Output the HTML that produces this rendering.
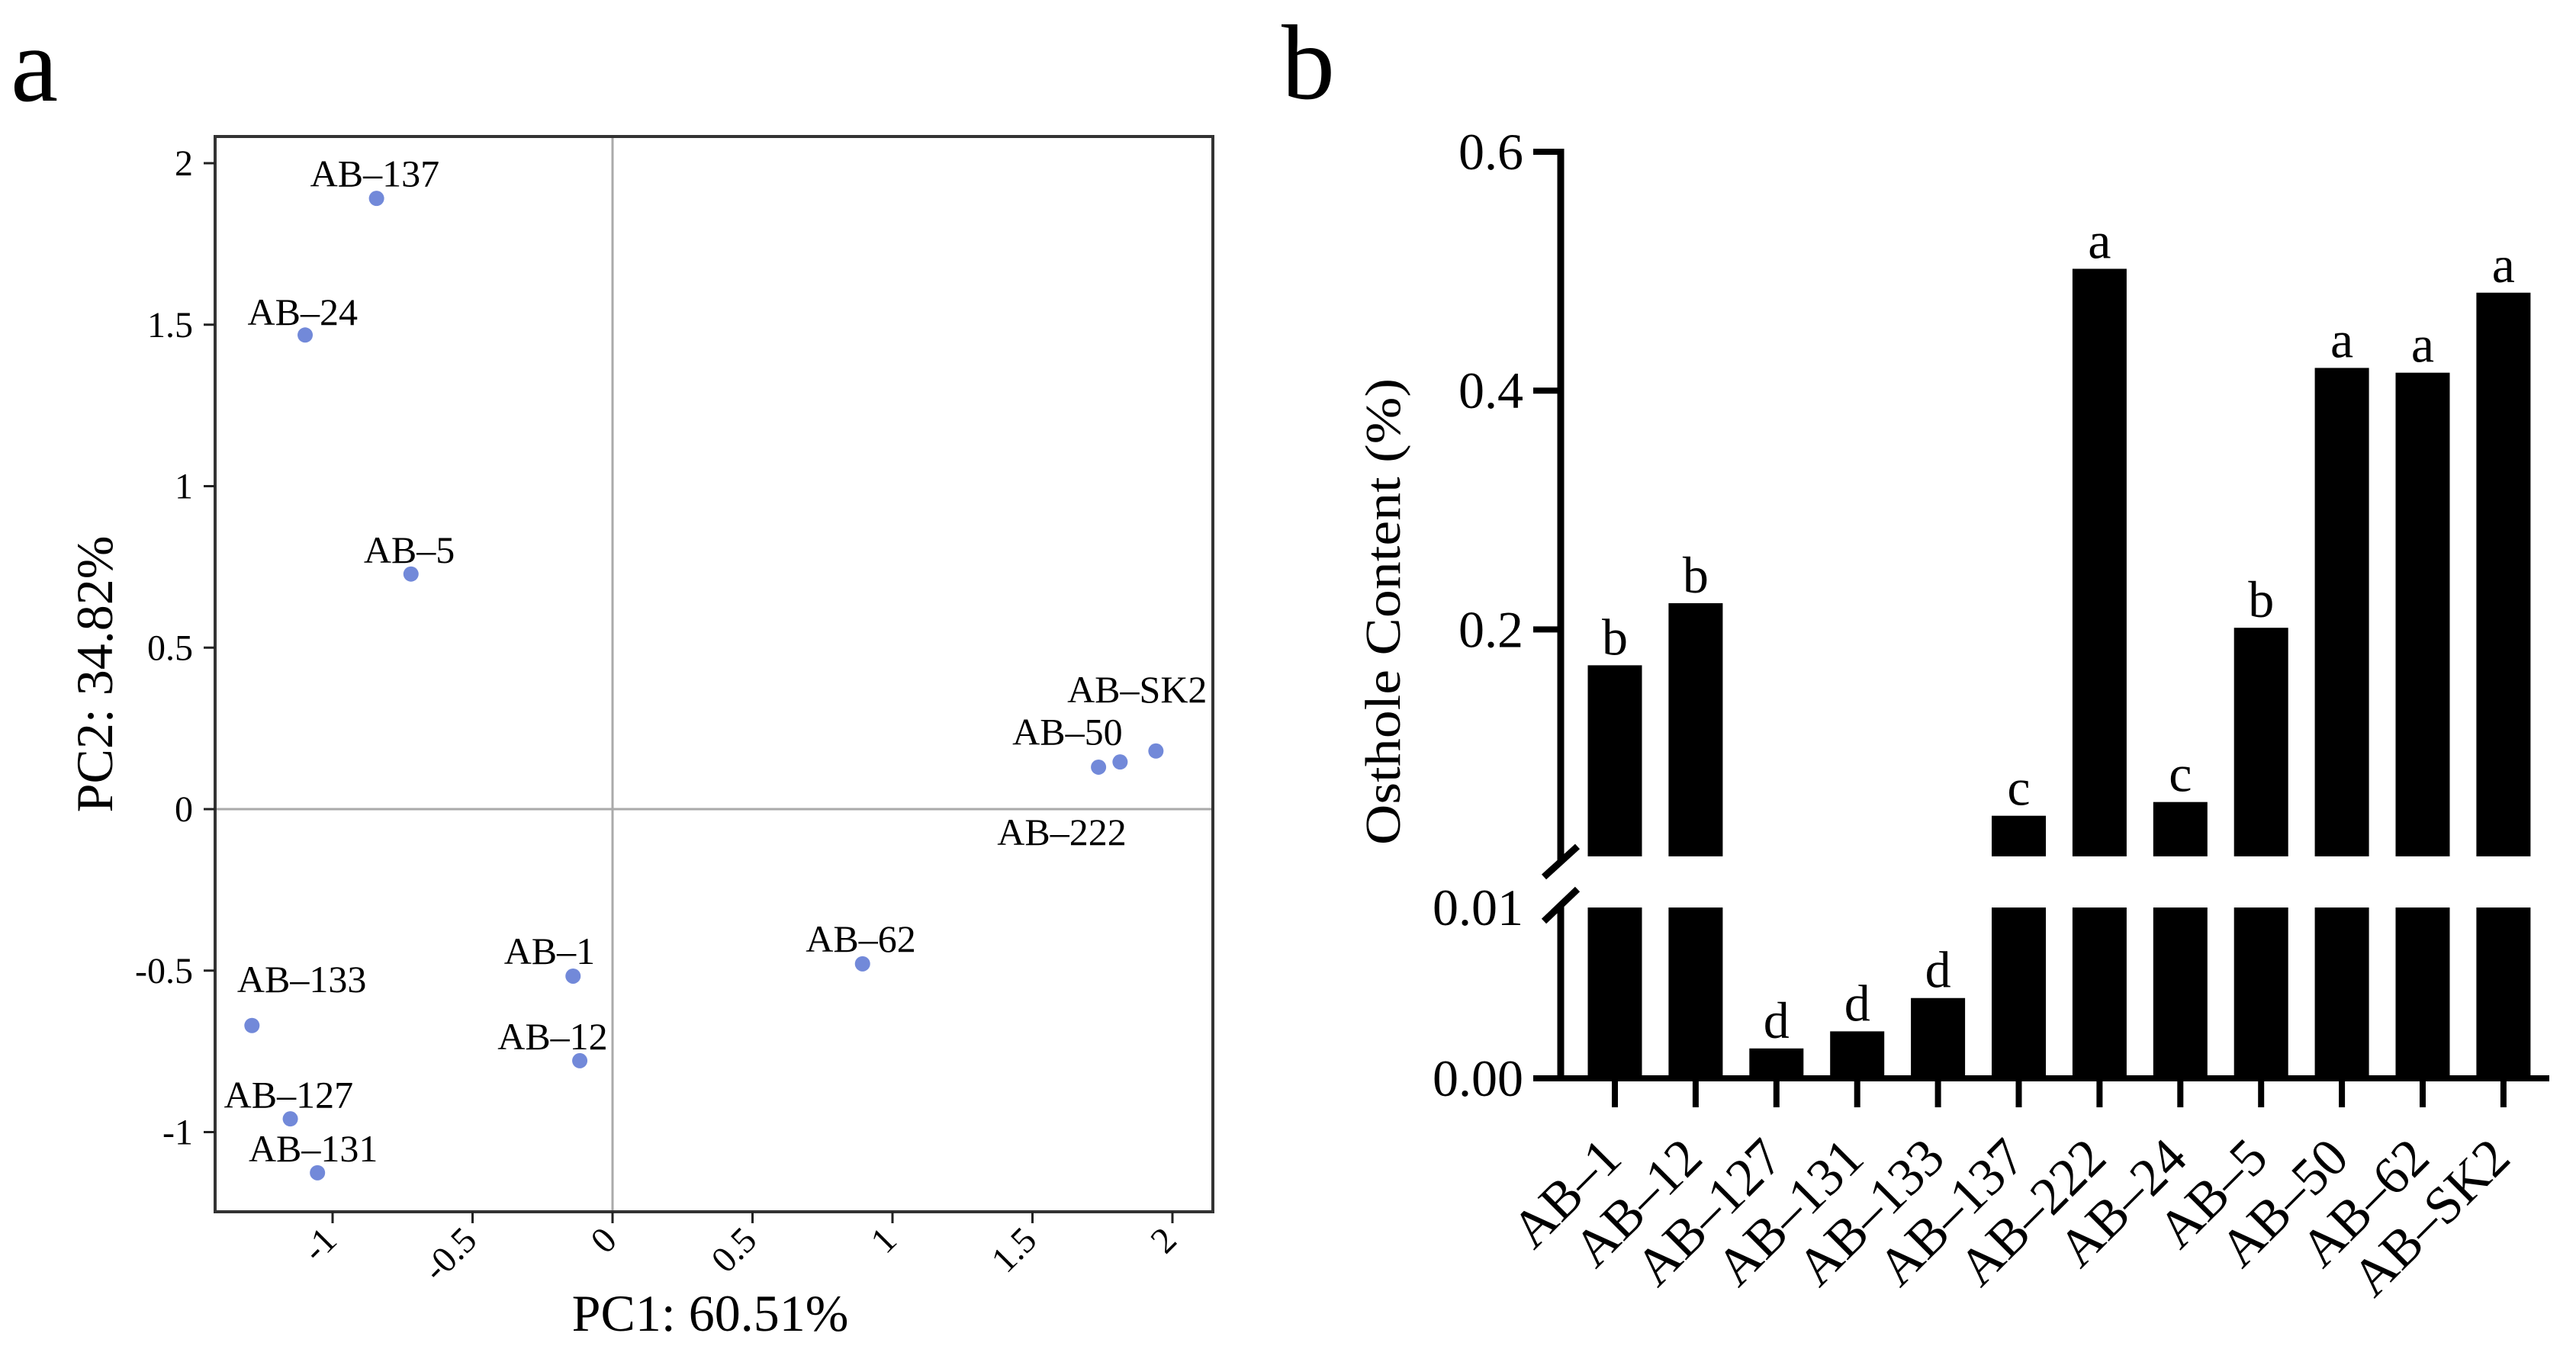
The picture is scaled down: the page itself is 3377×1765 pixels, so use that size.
<!DOCTYPE html>
<html><head><meta charset="utf-8"><style>
html,body{margin:0;padding:0;background:#fff}
svg{display:block;font-family:"Liberation Serif",serif}
</style></head><body>
<svg id="fig" width="3377" height="1765" viewBox="0 0 3377 1765" xmlns="http://www.w3.org/2000/svg">
<text x="14" y="132" font-size="140">a</text>
<text x="1680" y="129" font-size="140">b</text>
<g id="pca"></g>
<g id="bar"></g>
</svg>
<script>
// ---- PCA data ----
const pcaNames = ["AB–137","AB–24","AB–5","AB–SK2","AB–50","AB–222","AB–62","AB–1","AB–12","AB–133","AB–127","AB–131"];
const pcaX = [-0.843,-1.098,-0.720,1.941,1.736,1.813,0.893,-0.141,-0.117,-1.288,-1.151,-1.054];
const pcaY = [1.891,1.468,0.728,0.180,0.130,0.146,-0.479,-0.517,-0.779,-0.670,-0.959,-1.126];
const labelX = [-0.849,-1.107,-0.726,1.874,1.625,1.605,0.887,-0.225,-0.214,-1.110,-1.157,-1.069];
const labelY = [1.928,1.499,0.763,0.331,0.199,-0.111,-0.442,-0.479,-0.744,-0.567,-0.924,-1.091];
const pcaXTicks = [-1,-0.5,0,0.5,1,1.5,2];
const pcaYTicks = [2,1.5,1,0.5,0,-0.5,-1];
// ---- Bar data ----
const barCats = ["AB–1","AB–12","AB–127","AB–131","AB–133","AB–137","AB–222","AB–24","AB–5","AB–50","AB–62","AB–SK2"];
const barVals = [0.170,0.222,0.00175,0.00275,0.0047,0.044,0.502,0.0555,0.2014,0.419,0.415,0.482];
const barLetters = ["b","b","d","d","d","c","a","c","b","a","a","a"];
const upperTicks = [0.6,0.4,0.2];
const upperTickLabels = ["0.6","0.4","0.2"];
const lowerTicks = [0.01,0.00];
const lowerTickLabels = ["0.01","0.00"];

const NS="http://www.w3.org/2000/svg";
function mk(tag,attrs,parent,txt){const e=document.createElementNS(NS,tag);for(const k in attrs)e.setAttribute(k,attrs[k]);if(txt!==undefined)e.textContent=txt;parent.appendChild(e);return e;}

// PCA
const pg=document.getElementById('pca');
const L=282,R=1590,T=179,B=1589;
const sx=v=>803+v*367, sy=v=>1061-v*423.5;
let e;
e=mk('line',{x1:sx(0),x2:sx(0),y1:T,y2:B,stroke:'#aaa','stroke-width':3},pg);


e=mk('line',{x1:L,x2:R,y1:sy(0),y2:sy(0),stroke:'#aaa','stroke-width':3},pg);


e=mk('rect',{x:L,y:T,width:R-L,height:B-T,fill:'none',stroke:'#333','stroke-width':4},pg);


pcaXTicks.forEach(t=>{
  e=mk('line',{x1:sx(t),x2:sx(t),y1:B,y2:B+15,stroke:'#222','stroke-width':3},pg);
  
  
  e=mk('text',{x:sx(t)+8,y:B+40,'font-size':48,'text-anchor':'end',transform:`rotate(-45 ${sx(t)+8} ${B+40})`},pg,String(t));
  
  
});
pcaYTicks.forEach(t=>{
  e=mk('line',{x1:L-15,x2:L,y1:sy(t),y2:sy(t),stroke:'#222','stroke-width':3},pg);
  
  
  e=mk('text',{x:253,y:sy(t)+16,'font-size':48,'text-anchor':'end'},pg,String(t));
  
  
});
pcaNames.forEach((n,i)=>{
  e=mk('circle',{cx:sx(pcaX[i]),cy:sy(pcaY[i]),r:10,fill:'#7289d9'},pg);
  
  
  e=mk('text',{x:sx(labelX[i]),y:sy(labelY[i]),'font-size':50,'text-anchor':'middle'},pg,n);
  
  
});
e=mk('text',{x:931,y:1745,'font-size':68,'text-anchor':'middle'},pg,'PC1: 60.51%');


e=mk('text',{x:147,y:884,'font-size':68,'text-anchor':'middle',transform:'rotate(-90 147 884)'},pg,'PC2: 34.82%');



// Bar chart
const bg=document.getElementById('bar');
const AX=2046, BASE=1414;
const bx=i=>2117+i*105.9;
const yU=v=>199+(0.6-v)*1566;   // upper segment (0.01..0.6)
const yL=v=>BASE-v*22400;        // lower segment (0..0.01)
const UB=yU(0.01), LT=yL(0.01);
const BW=71;
barVals.forEach((v,i)=>{
  const x=bx(i)-BW/2;
  const lowTop = v>=0.01 ? LT : yL(v);
  e=mk('rect',{x:x,y:lowTop,width:BW,height:BASE-lowTop,fill:'#000'},bg);
  
  
  let top=lowTop;
  if(v>=0.01){
    top=yU(v);
    e=mk('rect',{x:x,y:top,width:BW,height:UB-top,fill:'#000'},bg);
    
    
  }
  e=mk('text',{x:bx(i),y:top-14,'font-size':68,'text-anchor':'middle'},bg,barLetters[i]);
  
  
  e=mk('line',{x1:bx(i),x2:bx(i),y1:BASE,y2:1452,stroke:'#000','stroke-width':8},bg);
  
  
  const ax=bx(i)+12, ay=1522;
  e=mk('text',{x:ax,y:ay,'font-size':70,'text-anchor':'end',transform:`rotate(-45 ${ax} ${ay})`},bg,barCats[i]);
  
  
});
e=mk('line',{x1:2010,x2:3342,y1:BASE,y2:BASE,stroke:'#000','stroke-width':8},bg);


e=mk('line',{x1:AX,x2:AX,y1:195,y2:UB+5,stroke:'#000','stroke-width':9},bg);


e=mk('line',{x1:AX,x2:AX,y1:LT-3,y2:BASE+4,stroke:'#000','stroke-width':9},bg);


e=mk('line',{x1:2024,x2:2068,y1:UB+27,y2:UB-13,stroke:'#000','stroke-width':9},bg);


e=mk('line',{x1:2024,x2:2068,y1:LT+18,y2:LT-24,stroke:'#000','stroke-width':9},bg);


upperTicks.forEach((t,i)=>{
  e=mk('line',{x1:2010,x2:AX,y1:yU(t),y2:yU(t),stroke:'#000','stroke-width':8},bg);
  
  
  e=mk('text',{x:1997,y:yU(t)+23,'font-size':68,'text-anchor':'end'},bg,upperTickLabels[i]);
  
  
});
lowerTicks.forEach((t,i)=>{
  e=mk('text',{x:1997,y:yL(t)+23,'font-size':68,'text-anchor':'end'},bg,lowerTickLabels[i]);
  
  
});
e=mk('text',{x:1835,y:802,'font-size':66,'text-anchor':'middle',textLength:612,lengthAdjust:'spacingAndGlyphs',transform:'rotate(-90 1835 802)'},bg,'Osthole Content (%)');


</script>
</body></html>
